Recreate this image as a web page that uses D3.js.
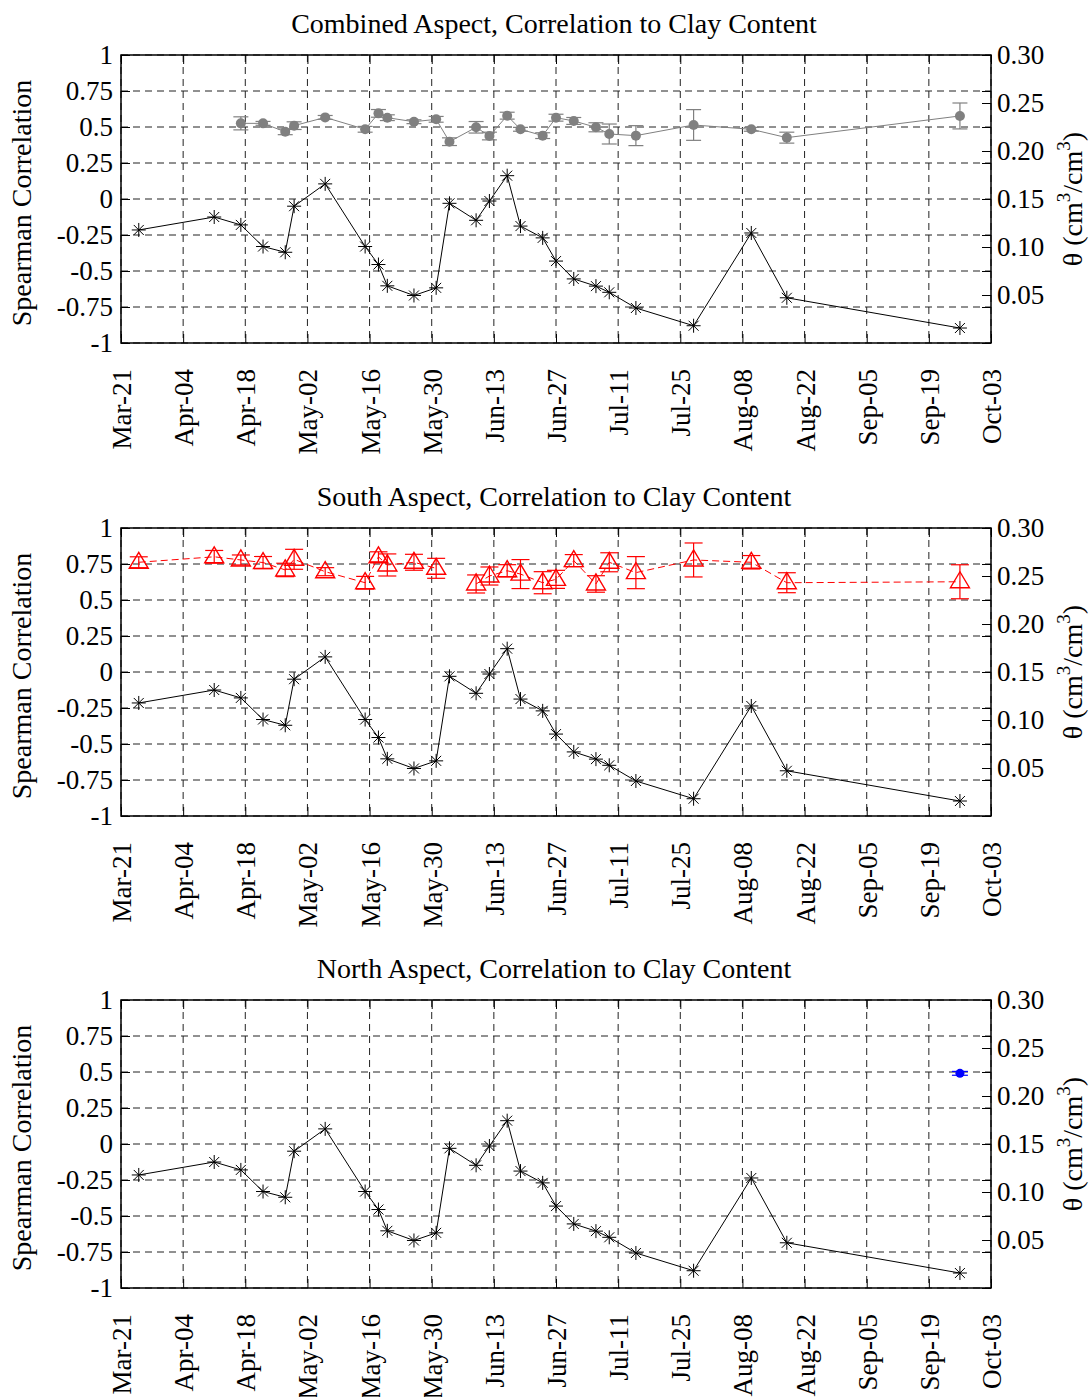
<!DOCTYPE html>
<html>
<head>
<meta charset="utf-8">
<script src="https://cdn.jsdelivr.net/npm/d3@7"></script>
<style>
  body { margin: 0; background: #fff; }
  svg, svg text { font-family: "Liberation Serif", "Times New Roman", serif; }
</style>
</head>
<body>
<script>
// sampling dates (year is arbitrary, only month-day is shown)
var sampleDates = ["2009-03-25","2009-04-11","2009-04-17","2009-04-22","2009-04-27","2009-04-29",
  "2009-05-06","2009-05-15","2009-05-18","2009-05-20","2009-05-26","2009-05-31","2009-06-03",
  "2009-06-09","2009-06-12","2009-06-16","2009-06-19","2009-06-24","2009-06-27","2009-07-01",
  "2009-07-06","2009-07-09","2009-07-15","2009-07-28","2009-08-10","2009-08-18","2009-09-26"];

// Spearman correlation to clay content (left axis)
var spearman = [-0.215,-0.125,-0.18,-0.33,-0.37,-0.05,0.105,-0.33,-0.455,-0.603,-0.67,-0.617,-0.03,
  -0.148,-0.014,0.162,-0.188,-0.27,-0.431,-0.555,-0.605,-0.648,-0.757,-0.88,-0.236,-0.686,-0.896];

// mean soil moisture theta (right axis) and error
var combinedTheta = [null,null,0.2288,0.2288,0.220,0.2264,0.235,0.2226,0.2392,0.2347,0.2305,0.233,0.2097,
  0.2247,0.2156,0.2368,0.2226,0.216,0.2347,0.2313,0.2247,0.2177,0.216,0.2271,0.2226,0.2139,0.2365];
var combinedErr = [null,null,0.0068,0.002,0.003,0.004,0.002,0.003,0.004,0.003,0.002,0.003,0.004,
  0.006,0.004,0.0036,0.002,0.003,0.0036,0.0036,0.0047,0.0104,0.0104,0.016,0.002,0.0057,0.0135];

var southTheta = [0.2643,0.270,0.2667,0.264,0.2563,0.2674,0.2545,0.243,0.270,0.2615,0.2643,0.258,null,
  0.2417,0.25,0.2555,0.252,0.243,0.2465,0.266,0.2417,0.2643,0.2535,0.2667,0.2643,0.243,0.244];
var southErr = [0.0057,0.0066,0.0052,0.0063,0.007,0.0104,0.0042,0.0066,0.0052,0.0115,0.0083,0.0104,null,
  0.0094,0.0094,0.0063,0.0151,0.0115,0.0094,0.0063,0.0086,0.0099,0.0167,0.0177,0.007,0.0104,0.0177];

var northTheta = [null,null,null,null,null,null,null,null,null,null,null,null,null,
  null,null,null,null,null,null,null,null,null,null,null,null,null,0.2236];
var northErr = [null,null,null,null,null,null,null,null,null,null,null,null,null,
  null,null,null,null,null,null,null,null,null,null,null,null,null,0.002];

var leftTicks = [1,0.75,0.5,0.25,0,-0.25,-0.5,-0.75,-1];
var leftTickLabels = ["1","0.75","0.5","0.25","0","-0.25","-0.5","-0.75","-1"];
var rightTicks = [0.30,0.25,0.20,0.15,0.10,0.05];
var rightTickLabels = ["0.30","0.25","0.20","0.15","0.10","0.05"];

var titles = ["Combined Aspect, Correlation to Clay Content",
  "South Aspect, Correlation to Clay Content",
  "North Aspect, Correlation to Clay Content"];

var parse = d3.timeParse("%Y-%m-%d");
var dates = sampleDates.map(parse);
var start = parse("2009-03-21");
var tickDates = d3.range(15).map(function(i) { return d3.timeDay.offset(start, 14 * i); });

var width = 870, height = 288, left = 121;
var tops = [55, 528, 1000];
var fs = 27;
var serif = "Liberation Serif, Times New Roman, serif";

var svg = d3.select("body").append("svg")
  .attr("width", 1091).attr("height", 1397)
  .attr("font-family", serif);

var x = d3.scaleTime().domain([start, tickDates[14]]).range([0, width]);
var yL = d3.scaleLinear().domain([-1, 1]).range([height, 0]);
var yR = d3.scaleLinear().domain([0, 0.3]).range([height, 0]);

var starPath = "M-7,0H7M0,-7V7M-5,-5L5,5M-5,5L5,-5";
var triPath = "M0,-10L9.5,6H-9.5Z";

function drawPanel(i, theta, err, style) {
  var g = svg.append("g").attr("transform", "translate(" + left + "," + tops[i] + ")");

  // grid
  g.append("g").selectAll("line").data(leftTicks).enter().append("line")
    .attr("x1", 0).attr("x2", width)
    .attr("y1", function(d) { return yL(d); }).attr("y2", function(d) { return yL(d); })
    .attr("stroke", "#222").attr("stroke-width", 1).attr("stroke-dasharray", "7,5");
  g.append("g").selectAll("line").data(tickDates).enter().append("line")
    .attr("y1", 0).attr("y2", height)
    .attr("x1", function(d) { return x(d); }).attr("x2", function(d) { return x(d); })
    .attr("stroke", "#222").attr("stroke-width", 1).attr("stroke-dasharray", "7,5");

  // axes
  var ax = g.append("g").attr("transform", "translate(0," + height + ")")
    .call(d3.axisBottom(x).tickValues(tickDates).tickSize(-9).tickFormat(d3.timeFormat("%b-%d")));
  ax.selectAll("text")
    .attr("transform", "rotate(-90)")
    .attr("text-anchor", "end")
    .attr("x", -26).attr("y", 0).attr("dy", "0.35em");

  g.append("g").call(d3.axisTop(x).tickValues(tickDates).tickSize(-9).tickFormat(""));

  g.append("g")
    .call(d3.axisLeft(yL).tickValues(leftTicks).tickSize(-9).tickPadding(8)
      .tickFormat(function(d, k) { return leftTickLabels[k]; }));

  g.append("g").attr("transform", "translate(" + width + ",0)")
    .call(d3.axisRight(yL).tickValues(leftTicks).tickSize(-9).tickFormat(""));

  g.append("g").attr("transform", "translate(" + width + ",0)")
    .call(d3.axisRight(yR).tickValues(rightTicks).tickSize(-9).tickPadding(6)
      .tickFormat(function(d, k) { return rightTickLabels[k]; }));

  g.selectAll(".domain").remove();
  g.selectAll("g").attr("font-family", serif).attr("font-size", fs);
  g.selectAll(".tick line").attr("stroke", "#000");
  g.selectAll(".tick text").attr("fill", "#000");

  g.append("rect").attr("width", width).attr("height", height)
    .attr("fill", "none").attr("stroke", "#000").attr("stroke-width", 1.5);

  // title
  g.append("text").attr("x", width / 2 - 2).attr("y", -22)
    .attr("text-anchor", "middle").attr("font-size", 28).text(titles[i]);

  // axis labels
  g.append("text")
    .attr("transform", "translate(" + (31 - left) + "," + (height / 2 + 4) + ") rotate(-90)")
    .attr("text-anchor", "middle").attr("font-size", 28).text("Spearman Correlation");

  var rl = g.append("text")
    .attr("transform", "translate(" + (1082 - left) + "," + (height / 2) + ") rotate(-90)")
    .attr("text-anchor", "middle").attr("font-size", 28);
  rl.append("tspan").text("\u03b8 (cm");
  rl.append("tspan").attr("font-size", 19).attr("dy", -12).text("3");
  rl.append("tspan").attr("dy", 12).text("/cm");
  rl.append("tspan").attr("font-size", 19).attr("dy", -12).text("3");
  rl.append("tspan").attr("dy", 12).text(")");

  // Spearman series
  var corr = dates.map(function(d, k) { return { date: d, v: spearman[k] }; });
  g.append("path").datum(corr)
    .attr("fill", "none").attr("stroke", "#000").attr("stroke-width", 1)
    .attr("d", d3.line().x(function(d) { return x(d.date); }).y(function(d) { return yL(d.v); }));
  g.append("g").selectAll("path").data(corr).enter().append("path")
    .attr("transform", function(d) { return "translate(" + x(d.date) + "," + yL(d.v) + ")"; })
    .attr("d", starPath).attr("fill", "none").attr("stroke", "#000").attr("stroke-width", 1);

  // theta series
  var th = dates.map(function(d, k) { return { date: d, v: theta[k], e: err[k] }; });
  var pts = th.filter(function(d) { return d.v != null; });

  g.append("path").datum(th)
    .attr("fill", "none").attr("stroke", style.color).attr("stroke-width", 1)
    .attr("stroke-dasharray", style.dash)
    .attr("d", d3.line().defined(function(d) { return d.v != null; })
      .x(function(d) { return x(d.date); }).y(function(d) { return yR(d.v); }));

  var eb = g.append("g").attr("stroke", style.color).attr("stroke-width", 1.2);
  eb.selectAll(".v").data(pts).enter().append("line")
    .attr("x1", function(d) { return x(d.date); }).attr("x2", function(d) { return x(d.date); })
    .attr("y1", function(d) { return yR(d.v - d.e); }).attr("y2", function(d) { return yR(d.v + d.e); });
  [-1, 1].forEach(function(s) {
    eb.selectAll(".c" + s).data(pts).enter().append("line")
      .attr("x1", function(d) { return x(d.date) - style.cap; })
      .attr("x2", function(d) { return x(d.date) + style.cap; })
      .attr("y1", function(d) { return yR(d.v + s * d.e); })
      .attr("y2", function(d) { return yR(d.v + s * d.e); });
  });

  if (style.marker === "tri") {
    g.append("g").selectAll("path").data(pts).enter().append("path")
      .attr("transform", function(d) { return "translate(" + x(d.date) + "," + yR(d.v) + ")"; })
      .attr("d", triPath).attr("fill", "none").attr("stroke", style.color).attr("stroke-width", 1.4);
  } else {
    g.append("g").selectAll("circle").data(pts).enter().append("circle")
      .attr("cx", function(d) { return x(d.date); }).attr("cy", function(d) { return yR(d.v); })
      .attr("r", style.r).attr("fill", style.color);
  }
}

drawPanel(0, combinedTheta, combinedErr, { color: "#808080", dash: null, cap: 7.5, marker: "dot", r: 5 });
drawPanel(1, southTheta, southErr, { color: "#ff0000", dash: "7,4", cap: 9, marker: "tri" });
drawPanel(2, northTheta, northErr, { color: "#0000ff", dash: null, cap: 8, marker: "dot", r: 4.5 });
</script>
</body>
</html>
